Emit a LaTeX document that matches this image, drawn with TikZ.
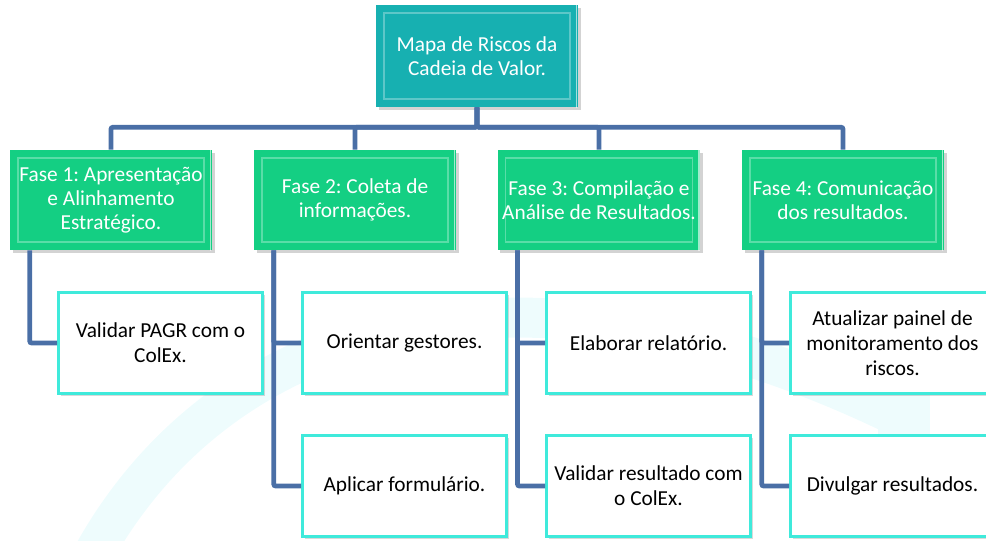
\documentclass[tikz,border=0pt]{standalone}
\usepackage{fontspec}
\setmainfont{Carlito}
\usetikzlibrary{shadows}
\frenchspacing

\definecolor{topoteal}{HTML}{17B0B1}
\definecolor{fasegreen}{HTML}{14CF83}
\definecolor{eloazul}{HTML}{4A6FA6}
\definecolor{bordaciano}{HTML}{3FEADB}
\definecolor{marcaciano}{HTML}{EEFCFD}

\tikzset{
    bisel/.style={path picture={
        \draw[white,opacity=.3,line width=.8pt] ([shift={(6pt,6pt)}]path picture bounding box.south west) rectangle ([shift={(-6pt,-6pt)}]path picture bounding box.north east);
        \draw[white,opacity=.6,line width=1.2pt] ([shift={(-1pt,1pt)}]path picture bounding box.north east) -- ([shift={(-1pt,-1pt)}]path picture bounding box.south east);}},
    topobox/.style={fill=topoteal, bisel, minimum width=151.5pt, minimum height=76.5pt,
        text=white, align=center, font=\fontsize{16}{18}\selectfont,
        drop shadow={opacity=.35,shadow xshift=2pt,shadow yshift=-2pt}},
    fasebox/.style={topobox, fill=fasegreen, minimum height=75pt},
    tarefabox/.style={draw=bordaciano, line width=2.2pt, fill=white, minimum width=153pt, minimum height=75.5pt,
        text=black, align=center, font=\fontsize{16}{18.75}\selectfont,
        drop shadow={opacity=.3,shadow xshift=2pt,shadow yshift=-2pt}},
    elo/.style={draw=eloazul, line width=3.6pt, rounded corners=1.5pt}
}

\begin{document}
\begin{tikzpicture}[x=0.75pt,y=-0.75pt]
        \useasboundingbox (0,0) rectangle (986,540);
        \clip (0,0) rectangle (986,540);
        % marca d'agua ao fundo
        \draw[marcaciano,line width=30pt] (90,560) .. controls (220,320) and (520,230) .. (905,420);
        \fill[marcaciano] (878,385) rectangle (930,515);

        \node[topobox] (topo) at (477,56) {Mapa de Riscos da\\Cadeia de Valor.};

        \node[fasebox] (f1) at (111,200) {Fase 1: Apresentação\\e Alinhamento\\Estratégico.};
        \node[fasebox] (f2) at (355,200) {Fase 2: Coleta de\\informações.};
        \node[fasebox] (f3) at (599,200) {Fase 3: Compilação e\\Análise de Resultados.};
        \node[fasebox] (f4) at (843,200) {Fase 4: Comunicação\\dos resultados.};

        \node[tarefabox] (t11) at (160.5,343) {Validar PAGR com o\\ColEx.};
        \node[tarefabox] (t21) at (404.5,343) {Orientar gestores.};
        \node[tarefabox] (t22) at (404.5,486) {Aplicar formulário.};
        \node[tarefabox] (t31) at (648.5,343) {Elaborar relatório.};
        \node[tarefabox] (t32) at (648.5,486) {Validar resultado com\\o ColEx.};
        \node[tarefabox] (t41) at (892.5,343) {Atualizar painel de\\monitoramento dos\\riscos.};
        \node[tarefabox] (t42) at (892.5,486) {Divulgar resultados.};

        % barramento
        \foreach \f in {f1,f2,f3,f4}
            \draw[elo] (topo.south) -- ++(0,20) -| (\f.north);

        % ramos das fases
        \draw[elo] ([xshift=15pt]f1.south west) |- (t11.west);
        \foreach \f/\t in {f2/t21,f2/t22,f3/t31,f3/t32,f4/t41,f4/t42}
            \draw[elo] ([xshift=15pt]\f.south west) |- (\t.west);
    \end{tikzpicture}
\end{document}
